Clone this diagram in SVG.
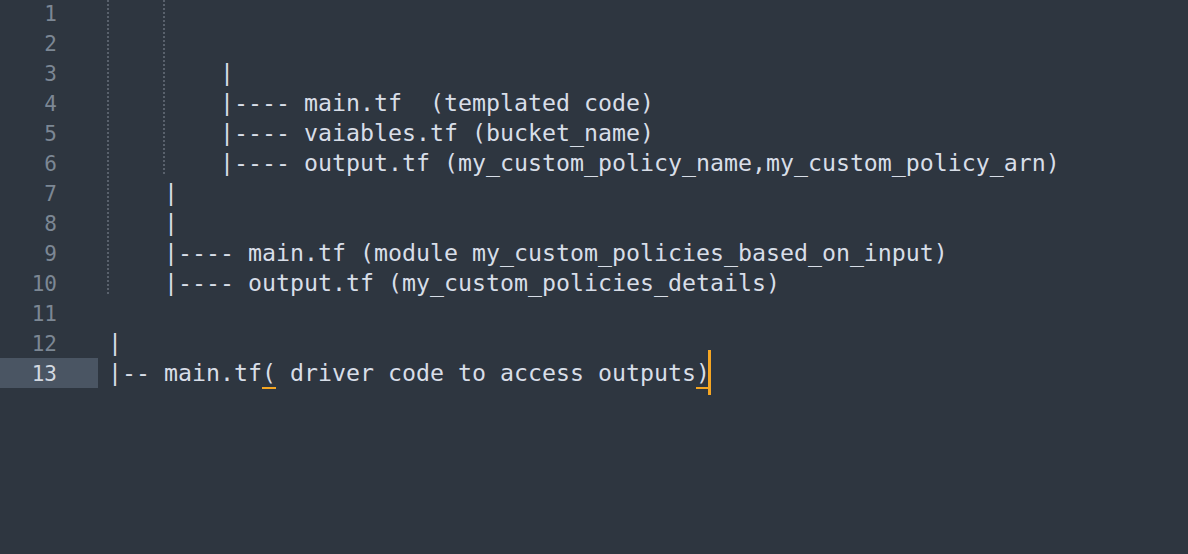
<svg xmlns="http://www.w3.org/2000/svg" width="1188" height="554" viewBox="0 0 1188 554">
<style>
.code{font-family:"DejaVu Sans Mono","Liberation Mono",monospace;font-size:23.25px;fill:#d8dee8;white-space:pre}
.ln{font-family:"DejaVu Sans Mono","Liberation Mono",monospace;font-size:21px;fill:#7c8794;text-anchor:end}
.guide{stroke:#59616c;stroke-width:2;stroke-dasharray:2 2}
</style>
<rect width="1188" height="554" fill="#2e3640"/>
<rect x="0" y="358" width="98" height="30" fill="#4a5563"/>
<g id="guides">
<line class="guide" x1="108" y1="0" x2="108" y2="295"/>
<line class="guide" x1="164" y1="0" x2="164" y2="175"/>
</g>
<g id="line-numbers">
<text class="ln" x="57" y="20.5">1</text>
<text class="ln" x="57" y="50.5">2</text>
<text class="ln" x="57" y="80.5">3</text>
<text class="ln" x="57" y="110.5">4</text>
<text class="ln" x="57" y="140.5">5</text>
<text class="ln" x="57" y="170.5">6</text>
<text class="ln" x="57" y="200.5">7</text>
<text class="ln" x="57" y="230.5">8</text>
<text class="ln" x="57" y="260.5">9</text>
<text class="ln" x="57" y="290.5">10</text>
<text class="ln" x="57" y="320.5">11</text>
<text class="ln" x="57" y="350.5">12</text>
<text class="ln" x="57" y="380.5" style="fill:#d3d9e1">13</text>
</g>
<g id="code" xml:space="preserve">
<text class="code" x="108" y="80.5">        |</text>
<text class="code" x="108" y="110.5">        |---- main.tf  (templated code)</text>
<text class="code" x="108" y="140.5">        |---- vaiables.tf (bucket_name)</text>
<text class="code" x="108" y="170.5">        |---- output.tf (my_custom_policy_name,my_custom_policy_arn)</text>
<text class="code" x="108" y="200.5">    |</text>
<text class="code" x="108" y="230.5">    |</text>
<text class="code" x="108" y="260.5">    |---- main.tf (module my_custom_policies_based_on_input)</text>
<text class="code" x="108" y="290.5">    |---- output.tf (my_custom_policies_details)</text>
<text class="code" x="108" y="350.5">|</text>
<text class="code" x="108" y="380.5">|-- main.tf( driver code to access outputs)</text>
</g>
<g id="cursor">
<rect x="262" y="387" width="14" height="2" fill="#f5a623"/>
<rect x="696" y="387" width="12" height="2" fill="#f5a623"/>
<rect x="708" y="350" width="3" height="45" fill="#f5a623"/>
</g>
</svg>
